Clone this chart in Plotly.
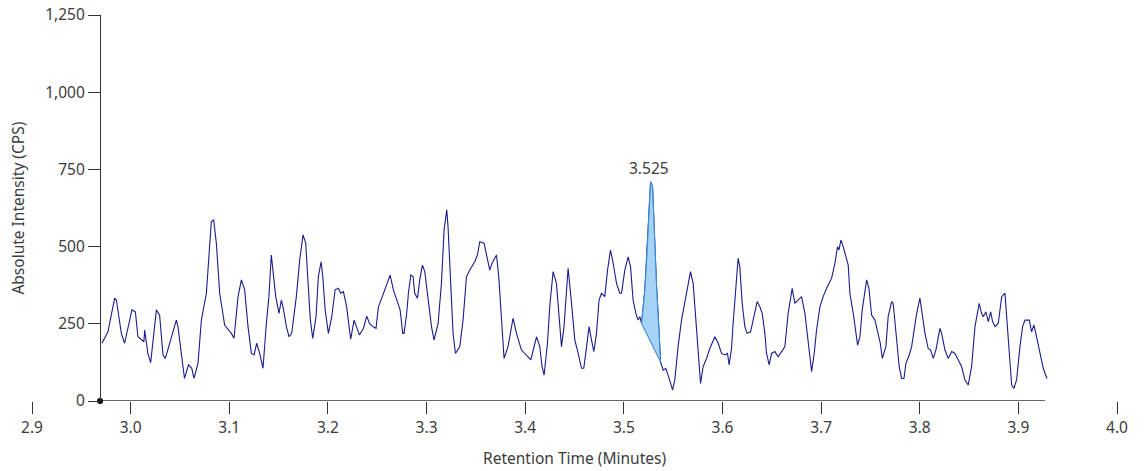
import plotly.graph_objects as go

# Retention time (minutes) and absolute intensity (CPS)
time_min = [
    2.9709, 2.9770, 2.9838, 2.9855, 2.9906, 2.9939, 3.0013, 3.0048, 3.0074, 3.0135,
    3.0142, 3.0175, 3.0203, 3.0261, 3.0294, 3.0328, 3.0352, 3.0413, 3.0463, 3.0480,
    3.0526, 3.0546, 3.0587, 3.0620, 3.0642, 3.0683, 3.0717, 3.0768, 3.0818, 3.0842,
    3.0869, 3.0903, 3.0953, 3.1021, 3.1048, 3.1089, 3.1123, 3.1156, 3.1190, 3.1224,
    3.1252, 3.1278, 3.1308, 3.1342, 3.1376, 3.1402, 3.1426, 3.1443, 3.1471, 3.1504,
    3.1528, 3.1545, 3.1579, 3.1606, 3.1633, 3.1680, 3.1714, 3.1748, 3.1775, 3.1795,
    3.1822, 3.1846, 3.1880, 3.1903, 3.1931, 3.1948, 3.1972, 3.2005, 3.2039, 3.2073,
    3.2106, 3.2130, 3.2157, 3.2190, 3.2218, 3.2231, 3.2265, 3.2292, 3.2319, 3.2360,
    3.2394, 3.2421, 3.2455, 3.2488, 3.2512, 3.2546, 3.2597, 3.2631, 3.2664, 3.2698,
    3.2732, 3.2759, 3.2772, 3.2799, 3.2816, 3.2840, 3.2863, 3.2880, 3.2908, 3.2931,
    3.2958, 3.2982, 3.3015, 3.3050, 3.3076, 3.3117, 3.3151, 3.3178, 3.3205, 3.3218,
    3.3245, 3.3269, 3.3293, 3.3337, 3.3370, 3.3405, 3.3438, 3.3489, 3.3516, 3.3540,
    3.3583, 3.3618, 3.3641, 3.3664, 3.3709, 3.3732, 3.3760, 3.3786, 3.3826, 3.3877,
    3.3912, 3.3962, 3.4029, 3.4057, 3.4090, 3.4115, 3.4148, 3.4171, 3.4192, 3.4226,
    3.4249, 3.4283, 3.4317, 3.4341, 3.4368, 3.4394, 3.4419, 3.4435, 3.4470, 3.4503,
    3.4537, 3.4571, 3.4594, 3.4622, 3.4648, 3.4672, 3.4696, 3.4723, 3.4749, 3.4774,
    3.4807, 3.4835, 3.4865, 3.4892, 3.4926, 3.4959, 3.4977, 3.5010, 3.5044, 3.5068,
    3.5094, 3.5122, 3.5145, 3.5162, 3.5180, 3.5213, 3.5237, 3.5257, 3.5271, 3.5291,
    3.5307, 3.5332, 3.5358, 3.5372, 3.5399, 3.5426, 3.5449, 3.5494, 3.5517, 3.5550,
    3.5585, 3.5636, 3.5676, 3.5703, 3.5730, 3.5754, 3.5778, 3.5804, 3.5839, 3.5872,
    3.5923, 3.5957, 3.5991, 3.6024, 3.6051, 3.6068, 3.6092, 3.6108, 3.6133, 3.6159,
    3.6176, 3.6200, 3.6227, 3.6250, 3.6285, 3.6311, 3.6352, 3.6379, 3.6403, 3.6430,
    3.6447, 3.6474, 3.6498, 3.6531, 3.6565, 3.6599, 3.6633, 3.6666, 3.6707, 3.6734,
    3.6768, 3.6802, 3.6836, 3.6863, 3.6886, 3.6904, 3.6930, 3.6954, 3.6988, 3.7021,
    3.7056, 3.7106, 3.7140, 3.7167, 3.7181, 3.7201, 3.7224, 3.7248, 3.7275, 3.7292,
    3.7326, 3.7370, 3.7394, 3.7417, 3.7462, 3.7485, 3.7512, 3.7546, 3.7580, 3.7600,
    3.7621, 3.7657, 3.7680, 3.7715, 3.7731, 3.7766, 3.7792, 3.7816, 3.7840, 3.7860,
    3.7894, 3.7918, 3.7951, 3.7969, 3.8002, 3.8019, 3.8053, 3.8086, 3.8110, 3.8137,
    3.8164, 3.8205, 3.8222, 3.8256, 3.8289, 3.8324, 3.8357, 3.8391, 3.8425, 3.8458,
    3.8492, 3.8526, 3.8560, 3.8603, 3.8627, 3.8644, 3.8671, 3.8695, 3.8719, 3.8739,
    3.8763, 3.8796, 3.8831, 3.8864, 3.8881, 3.8908, 3.8932, 3.8955, 3.8982, 3.9016,
    3.9043, 3.9067, 3.9111, 3.9134, 3.9158, 3.9185, 3.9219, 3.9252, 3.9290,
]

intensity_cps = [
    187, 224, 333, 327, 219, 187, 295, 289, 208, 192,
    230, 154, 124, 295, 278, 149, 138, 203, 262, 241,
    122, 73, 117, 106, 73, 122, 262, 349, 581, 586,
    511, 349, 246, 219, 203, 338, 392, 360, 241, 154,
    150, 187, 154, 106, 251, 338, 473, 413, 338, 284,
    327, 305, 241, 208, 219, 338, 457, 538, 511, 403,
    262, 203, 273, 403, 451, 403, 295, 219, 273, 360,
    365, 349, 354, 305, 241, 200, 262, 235, 214, 235,
    275, 251, 241, 235, 305, 333, 381, 408, 360, 327,
    295, 219, 219, 284, 349, 408, 403, 349, 333, 392,
    440, 419, 327, 241, 197, 251, 381, 554, 619, 564,
    381, 219, 154, 176, 262, 403, 424, 451, 473, 516,
    511, 462, 424, 446, 473, 403, 273, 138, 176, 268,
    219, 165, 143, 133, 176, 208, 176, 111, 84, 187,
    305, 419, 381, 273, 176, 241, 349, 430, 316, 198,
    154, 106, 106, 176, 241, 198, 160, 219, 327, 349,
    338, 424, 489, 446, 381, 349, 349, 424, 467, 435,
    327, 284, 262, 273, 251, 359, 489, 629, 710, 694,
    564, 370, 219, 127, 100, 106, 84, 36, 68, 176,
    262, 349, 419, 381, 262, 133, 57, 111, 138, 170,
    208, 187, 154, 149, 154, 117, 170, 251, 349, 462,
    435, 316, 241, 219, 224, 262, 322, 305, 284, 219,
    154, 117, 154, 160, 143, 160, 176, 284, 365, 316,
    327, 338, 284, 208, 133, 95, 154, 230, 305, 338,
    365, 397, 446, 500, 489, 521, 500, 467, 440, 349,
    284, 181, 208, 295, 392, 365, 278, 262, 219, 187,
    138, 176, 273, 322, 316, 187, 111, 73, 73, 122,
    149, 176, 241, 284, 333, 295, 219, 170, 165, 138,
    165, 235, 219, 165, 138, 160, 154, 133, 111, 68,
    52, 111, 241, 316, 284, 273, 289, 257, 289, 257,
    241, 251, 338, 349, 273, 154, 52, 41, 68, 176,
    241, 262, 262, 224, 246, 208, 154, 106, 73,
]

x_tick_vals = [2.9, 3.0, 3.1, 3.2, 3.3, 3.4, 3.5, 3.6, 3.7, 3.8, 3.9, 4.0]
x_tick_text = ["2.9", "3.0", "3.1", "3.2", "3.3", "3.4", "3.5", "3.6", "3.7", "3.8", "3.9", "4.0"]
y_tick_vals = [0, 250, 500, 750, 1000, 1250]
y_tick_text = ["0", "250", "500", "750", "1,000", "1,250"]

peak_label = "3.525"
peak_rt = 3.5255
peak_start = 3.5180
peak_end = 3.5372
x_range = [2.9, 4.0]
y_range = [0, 1250]
axis_start = 2.969
axis_end = 3.927

FONT = "Noto Sans"
TXT = "#3c3c3c"
FS = 15.5

fig = go.Figure()

fig.add_trace(go.Scatter(
    x=time_min, y=intensity_cps, mode="lines",
    line=dict(color="#1c1c8c", width=1.1), hoverinfo="skip", showlegend=False,
))

# shaded integrated peak, closed by a straight baseline between start and end
px = [t for t in time_min if peak_start <= t <= peak_end]
py = [v for t, v in zip(time_min, intensity_cps) if peak_start <= t <= peak_end]
fig.add_trace(go.Scatter(
    x=px + [px[0]], y=py + [py[0]], mode="lines", fill="toself",
    fillcolor="rgba(150,205,245,0.85)", line=dict(color="#3d8fd6", width=1.1),
    hoverinfo="skip", showlegend=False,
))

# origin marker
fig.add_trace(go.Scatter(
    x=[axis_start], y=[0], mode="markers", marker=dict(color="black", size=6),
    cliponaxis=False, hoverinfo="skip", showlegend=False,
))

# bottom axis line (only across the data span)
fig.add_shape(type="line", xref="x", yref="y", x0=axis_start, x1=axis_end, y0=0, y1=0,
              line=dict(color="#333333", width=1.3), layer="below")

fig.add_annotation(x=peak_rt, y=756, xref="x", yref="y", text=peak_label, showarrow=False,
                   font=dict(family=FONT, size=FS, color=TXT), yanchor="middle")

fig.add_annotation(x=-0.0133, y=0.5, xref="paper", yref="paper", text="Absolute Intensity (CPS)",
                   textangle=-90, showarrow=False, font=dict(family=FONT, size=FS, color=TXT),
                   xanchor="center", yanchor="middle")
fig.add_annotation(x=0.5, y=-0.1477, xref="paper", yref="paper", text="Retention Time (Minutes)",
                   showarrow=False, font=dict(family=FONT, size=FS, color=TXT),
                   xanchor="center", yanchor="middle")

fig.update_layout(
    width=1145, height=471,
    margin=dict(l=32, r=28, t=15, b=70),
    plot_bgcolor="white", paper_bgcolor="white",
    font=dict(family=FONT, size=FS, color=TXT),
    xaxis=dict(
        range=x_range, showgrid=False, zeroline=False, showline=False, automargin=False,
        tickmode="array", tickvals=x_tick_vals, ticktext=x_tick_text,
        ticks="outside", ticklen=12, tickwidth=1.2, tickcolor="#333333",
        tickfont=dict(family=FONT, size=FS, color=TXT),
    ),
    yaxis=dict(
        range=y_range, showgrid=False, zeroline=False, showline=True, automargin=False,
        linecolor="#333333", linewidth=1.3,
        anchor="free", position=(axis_start - x_range[0]) / (x_range[1] - x_range[0]),
        tickmode="array", tickvals=y_tick_vals, ticktext=y_tick_text,
        ticks="outside", ticklen=12, tickwidth=1.2, tickcolor="#333333",
        tickfont=dict(family=FONT, size=FS, color=TXT),
    ),
)

fig.write_html("out.html")
